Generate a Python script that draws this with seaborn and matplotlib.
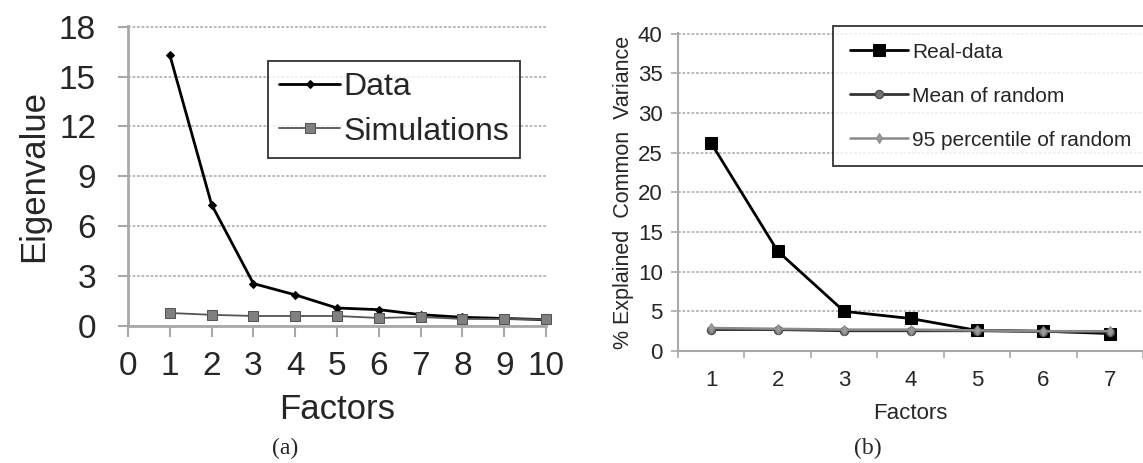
import numpy as np
import pandas as pd
import matplotlib
matplotlib.use("Agg")
import matplotlib.pyplot as plt
import seaborn as sns

# Datos del panel (a)
factors_a = [1, 2, 3, 4, 5, 6, 7, 8, 9, 10]
data_eig = [16.3, 7.3, 2.55, 1.87, 1.08, 0.98, 0.68, 0.52, 0.45, 0.38]
sim_eig = [0.78, 0.67, 0.6, 0.6, 0.6, 0.48, 0.54, 0.42, 0.42, 0.4]

# Datos del panel (b)
factors_b = [1, 2, 3, 4, 5, 6, 7]
real_data = [26.2, 12.6, 5.0, 4.1, 2.6, 2.5, 2.2]
mean_random = [2.7, 2.7, 2.55, 2.55, 2.55, 2.45, 2.4]
p95_random = [2.9, 2.8, 2.7, 2.7, 2.6, 2.5, 2.5]

sns.set_style("white")
plt.rcParams['font.family'] = ['Liberation Sans', 'DejaVu Sans']

fig = plt.figure(figsize=(11.43, 4.63), dpi=100)
grid_kw = dict(color='#b4b4b4', linestyle=(0, (1.5, 1)), linewidth=1.3)
spine_col = '#a8a8a8'

# ---------- Panel (a) ----------
ax1 = fig.add_axes([0.112, 0.296, 0.3657, 0.648])
sns.lineplot(x=factors_a, y=data_eig, ax=ax1, color='black', linewidth=2,
             marker='D', markersize=4, markeredgecolor='black', clip_on=False,
             label='Data')
sns.lineplot(x=factors_a, y=sim_eig, ax=ax1, color='#555555', linewidth=1.3,
             marker='s', markersize=7, markerfacecolor='#808080',
             markeredgecolor='#555555', clip_on=False, label='Simulations')
ax1.set_xlim(0, 10)
ax1.set_ylim(0, 18.05)
ax1.set_xticks(range(0, 11))
ax1.set_yticks(range(0, 19, 3))
ax1.yaxis.grid(True, **grid_kw)
ax1.set_axisbelow(True)
for s in ['top', 'right']:
    ax1.spines[s].set_visible(False)
for s in ['left', 'bottom']:
    ax1.spines[s].set_color(spine_col)
    ax1.spines[s].set_linewidth(2)
ax1.tick_params(axis='x', direction='out', length=8, width=1.5, color=spine_col,
                labelsize=24, pad=10, bottom=True)
ax1.tick_params(axis='y', direction='out', length=7, width=1.5, color=spine_col,
                labelsize=24, pad=16, left=True)
ax1.set_xlabel('Factors', fontsize=25, labelpad=8)
ax1.set_ylabel('Eigenvalue', fontsize=25, labelpad=6)
leg1 = ax1.legend(loc='upper left', bbox_to_anchor=(268 / 1143, 1 - 61 / 463),
                  bbox_transform=fig.transFigure, fontsize=23, frameon=True,
                  fancybox=False, edgecolor='black', handlelength=1.9,
                  handletextpad=0.1, labelspacing=0.45, borderpad=0.35,
                  borderaxespad=0)
leg1.get_frame().set_linewidth(1.3)

# ---------- Panel (b) ----------
ax2 = fig.add_axes([0.5932, 0.2419, 0.4068, 0.6868])
sns.lineplot(x=factors_b, y=real_data, ax=ax2, color='black', linewidth=2,
             marker='s', markersize=8, markeredgecolor='black', clip_on=False,
             label='Real-data')
sns.lineplot(x=factors_b, y=mean_random, ax=ax2, color='#333333', linewidth=2,
             marker='o', markersize=6, markerfacecolor='#707070',
             markeredgecolor='#444444', clip_on=False, label='Mean of random')
sns.lineplot(x=factors_b, y=p95_random, ax=ax2, color='#8a8a8a', linewidth=1.8,
             marker='d', markersize=5, markerfacecolor='#9a9a9a',
             markeredgecolor='#8a8a8a', clip_on=False,
             label='95 percentile of random')
ax2.set_xlim(0.5, 7.5)
ax2.set_ylim(0, 40.1)
ax2.set_xticks(factors_b)
ax2.set_xticks(np.arange(0.5, 8, 1), minor=True)
ax2.set_yticks(range(0, 41, 5))
ax2.yaxis.grid(True, **grid_kw)
ax2.set_axisbelow(True)
for s in ['top', 'right']:
    ax2.spines[s].set_visible(False)
for s in ['left', 'bottom']:
    ax2.spines[s].set_color(spine_col)
    ax2.spines[s].set_linewidth(1.5)
ax2.tick_params(axis='x', which='major', length=0, labelsize=16, pad=14)
ax2.tick_params(axis='x', which='minor', direction='out', length=5, width=1.2,
                color=spine_col, bottom=True)
ax2.tick_params(axis='y', direction='out', length=5, width=1.2, color=spine_col,
                labelsize=16, pad=6, left=True)
ax2.set_xlabel('Factors', fontsize=16, labelpad=8)
ax2.set_ylabel('% Explained  Common  Variance', fontsize=15.5, labelpad=3)
leg2 = ax2.legend(loc='upper left', bbox_to_anchor=(833 / 1143, 1 - 26 / 463),
                  bbox_transform=fig.transFigure, fontsize=15, frameon=True,
                  fancybox=False, edgecolor='black', handlelength=2.8,
                  handletextpad=0.2, labelspacing=1.2, borderpad=0.8,
                  borderaxespad=0)
leg2.get_frame().set_linewidth(1.3)

fig.text(285 / 1143, 1 - 448 / 463, '(a)', family='Liberation Serif',
         fontsize=17, ha='center', va='center')
fig.text(868 / 1143, 1 - 448 / 463, '(b)', family='Liberation Serif',
         fontsize=17, ha='center', va='center')

fig.savefig('out.png', dpi=100)
